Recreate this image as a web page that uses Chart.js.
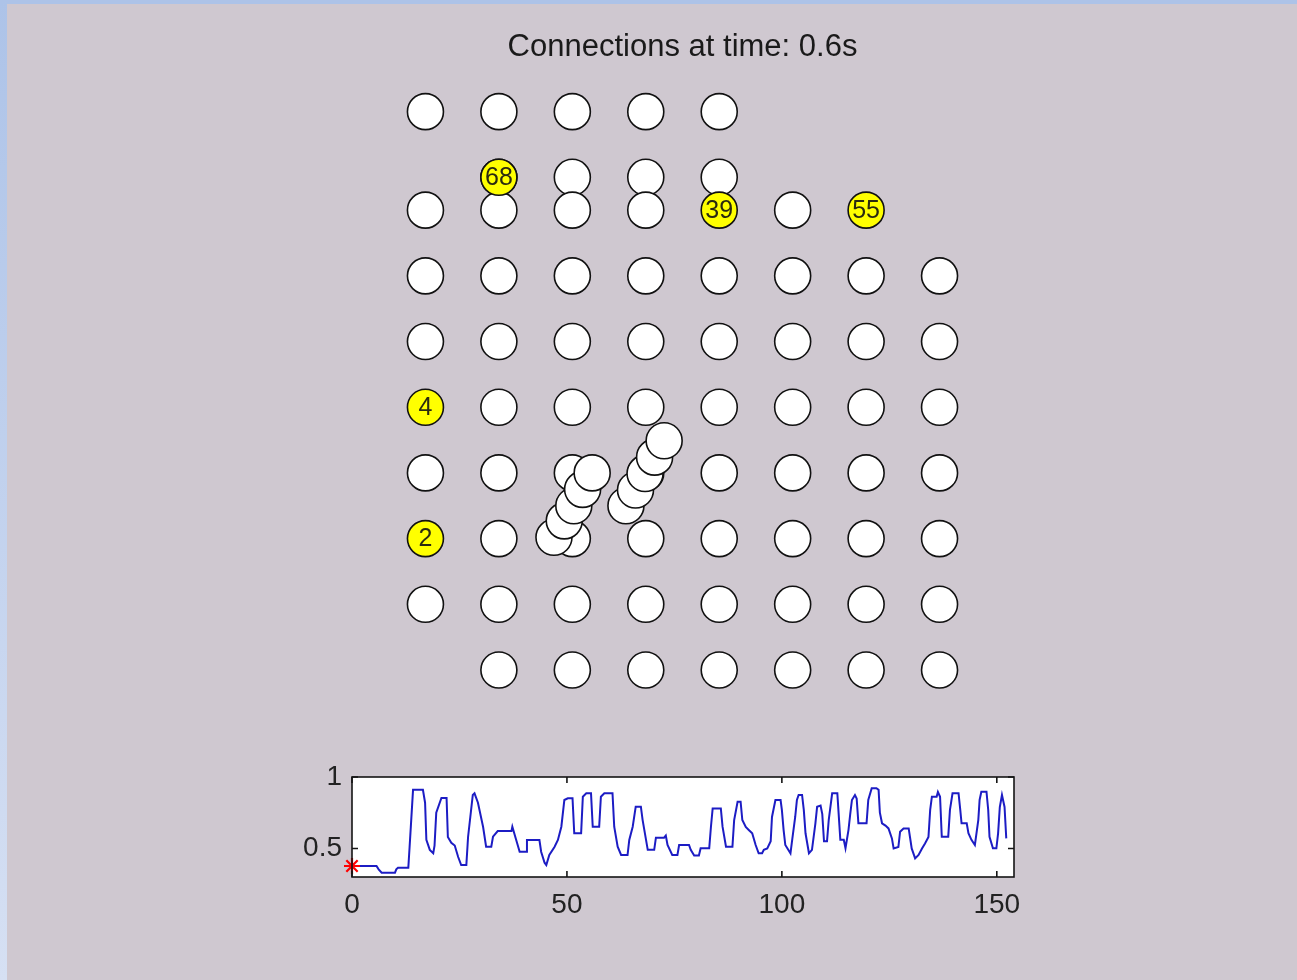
<!DOCTYPE html>
<html>
<head>
<meta charset="utf-8">
<script src="https://cdn.jsdelivr.net/npm/chart.js@4.4.1/dist/chart.umd.min.js"></script>
<style>
html, body { margin: 0; padding: 0; }
body { width: 1297px; height: 980px; background: #cfc8d0; position: relative; overflow: hidden; }
#topStrip { position: absolute; left: 0; top: 0; width: 1297px; height: 4px; background: #adc3e8; }
#leftStrip { position: absolute; left: 0; top: 0; width: 7px; height: 980px; background: linear-gradient(#adc3e8, #d6e0f3); }
#nodeChart { position: absolute; left: 0; top: 0; }
#loadChart { position: absolute; left: 0; top: 740px; }
</style>
</head>
<body>
<div id="topStrip"></div>
<div id="leftStrip"></div>
<canvas id="nodeChart" width="1297" height="740"></canvas>
<canvas id="loadChart" width="1297" height="240"></canvas>
<script>
Chart.defaults.font.family = '"Liberation Sans", Arial, Helvetica, sans-serif';
Chart.defaults.animation = false;

// grid of nodes: row heights and the columns used in each row
const nodeRows = [8.5, 7.5, 7, 6, 5, 4, 3, 2, 1, 0];
const nodeCols = [
    [1, 2, 3, 4, 5],
    [2, 3, 4, 5],
    [1, 2, 3, 4, 6],
    [1, 2, 3, 4, 5, 6, 7, 8],
    [1, 2, 3, 4, 5, 6, 7, 8],
    [2, 3, 4, 5, 6, 7, 8],
    [1, 2, 3, 4, 5, 6, 7, 8],
    [2, 3, 4, 5, 6, 7, 8],
    [1, 2, 3, 4, 5, 6, 7, 8],
    [2, 3, 4, 5, 6, 7, 8]
];

// nodes that are active (yellow) and their numbers
const activeX = [2, 5, 7, 1, 1];
const activeY = [7.5, 7, 7, 4, 2];
const activeLabels = ['68', '39', '55', '4', '2'];

// circles travelling along connections
const movingX = [2.75, 2.89, 3.02, 3.14, 3.27, 3.73, 3.86, 3.99, 4.12, 4.25];
const movingY = [2.02, 2.27, 2.50, 2.75, 3.00, 2.50, 2.74, 2.99, 3.24, 3.49];

// time trace in the lower axes
const timeS = [0, 5.7, 6.2, 6.9, 10.0, 10.3, 10.7, 13.1, 13.5, 14.2, 16.5, 17.0, 17.3, 18.1, 18.9, 19.2, 19.6, 20.8, 22.0, 22.3,
    23.1, 23.9, 24.7, 25.4, 26.6, 27.0, 28.1, 28.5, 29.3, 30.5, 31.2, 32.4, 32.8, 33.9, 37.1, 37.3, 38.2, 39.0, 40.5, 40.7,
    43.6, 44.0, 44.8, 45.2, 45.9, 47.1, 47.9, 48.7, 49.4, 50.2, 51.3, 51.7, 53.3, 53.7, 54.5, 55.6, 56.0, 57.5, 57.9, 58.7,
    60.6, 61.0, 61.8, 62.6, 64.1, 64.5, 65.3, 66.0, 67.2, 67.6, 68.4, 68.8, 70.3, 70.7, 72.6, 73.0, 73.4, 74.5, 75.7, 76.1,
    78.4, 78.8, 79.6, 80.7, 81.1, 83.1, 83.5, 83.9, 85.8, 86.2, 87.0, 88.5, 88.9, 89.7, 90.4, 90.8, 91.6, 92.3, 93.1, 93.9,
    94.6, 95.4, 95.8, 96.6, 97.4, 97.7, 98.5, 99.7, 100.0, 100.4, 100.8, 102.0, 102.4, 103.1, 103.5, 103.9, 104.7, 105.1, 105.5, 106.3,
    107.0, 107.8, 108.2, 109.0, 109.4, 109.8, 110.5, 110.9, 111.7, 112.9, 113.3, 113.6, 114.4, 114.8, 115.5, 115.9, 116.3, 117.0, 117.4, 117.8,
    119.7, 120.1, 120.9, 122.0, 122.5, 122.8, 123.3, 124.1, 124.8, 125.6, 126.0, 127.1, 127.5, 128.3, 129.5, 129.8, 130.2, 131.0, 131.8, 132.6,
    133.3, 134.1, 134.5, 134.9, 136.0, 136.3, 136.8, 137.2, 138.7, 139.1, 139.7, 141.1, 141.5, 141.8, 143.0, 143.4, 144.1, 144.9, 145.7, 146.0,
    146.4, 147.6, 148.0, 148.3, 149.1, 149.9, 150.3, 150.7, 151.2, 151.8, 152.2];
const loadValues = [0.377, 0.377, 0.354, 0.33, 0.33, 0.354, 0.365, 0.365, 0.56, 0.91, 0.91, 0.82, 0.56, 0.49, 0.466, 0.52, 0.75, 0.853, 0.853, 0.58,
    0.54, 0.52, 0.44, 0.384, 0.384, 0.58, 0.874, 0.886, 0.82, 0.65, 0.512, 0.512, 0.582, 0.622, 0.622, 0.652, 0.559, 0.477, 0.477, 0.559,
    0.559, 0.477, 0.40, 0.384, 0.454, 0.51, 0.559, 0.652, 0.839, 0.851, 0.851, 0.606, 0.606, 0.862, 0.886, 0.886, 0.652, 0.652, 0.862, 0.886,
    0.886, 0.652, 0.512, 0.454, 0.454, 0.559, 0.652, 0.792, 0.792, 0.70, 0.56, 0.49, 0.49, 0.575, 0.575, 0.59, 0.524, 0.454, 0.454, 0.524,
    0.524, 0.49, 0.45, 0.45, 0.501, 0.501, 0.652, 0.78, 0.78, 0.652, 0.512, 0.512, 0.699, 0.827, 0.827, 0.699, 0.65, 0.629, 0.606, 0.524,
    0.466, 0.466, 0.49, 0.50, 0.55, 0.72, 0.839, 0.839, 0.77, 0.63, 0.524, 0.466, 0.56, 0.72, 0.839, 0.874, 0.874, 0.77, 0.606, 0.466,
    0.49, 0.676, 0.792, 0.80, 0.74, 0.55, 0.55, 0.699, 0.886, 0.886, 0.70, 0.56, 0.56, 0.501, 0.63, 0.74, 0.839, 0.874, 0.85, 0.676,
    0.676, 0.839, 0.921, 0.921, 0.91, 0.75, 0.676, 0.66, 0.64, 0.57, 0.50, 0.51, 0.617, 0.64, 0.64, 0.58, 0.50, 0.43, 0.454, 0.50,
    0.535, 0.58, 0.77, 0.862, 0.862, 0.895, 0.862, 0.582, 0.582, 0.77, 0.886, 0.886, 0.77, 0.676, 0.676, 0.606, 0.56, 0.524, 0.70, 0.839,
    0.897, 0.897, 0.77, 0.582, 0.501, 0.501, 0.606, 0.79, 0.874, 0.79, 0.57];
const currentTime = [0];
const currentValue = [0.377];

const xTicks = [0, 50, 100, 150];
const yTicks = [0.5, 1];

// ---------- upper plot: the nodes ----------
let nodePoints = [];
nodeRows.forEach((row, i) => {
    nodeCols[i].forEach(col => nodePoints.push({ x: col, y: row }));
});
const activePoints = activeX.map((x, i) => ({ x: x, y: activeY[i] }));
const movingPoints = movingX.map((x, i) => ({ x: x, y: movingY[i] }));

const nodeLabels = {
    id: 'nodeLabels',
    afterDatasetsDraw(chart) {
        const meta = chart.getDatasetMeta(1);
        const c = chart.ctx;
        c.save();
        c.font = '25px "Liberation Sans", Arial, sans-serif';
        c.fillStyle = '#2a2a10';
        c.textAlign = 'center';
        c.textBaseline = 'middle';
        meta.data.forEach((pt, i) => {
            c.fillText(activeLabels[i], pt.x, pt.y + 1);
        });
        c.restore();
    }
};

new Chart(document.getElementById('nodeChart'), {
    type: 'scatter',
    data: {
        datasets: [
            {
                label: 'nodes',
                data: nodePoints,
                backgroundColor: '#ffffff',
                borderColor: '#111111',
                borderWidth: 1.6,
                pointRadius: 18,
                order: 3
            },
            {
                label: 'active',
                data: activePoints,
                backgroundColor: '#ffff00',
                borderColor: '#111111',
                borderWidth: 1.6,
                pointRadius: 18,
                order: 2
            },
            {
                label: 'moving',
                data: movingPoints,
                backgroundColor: '#ffffff',
                borderColor: '#111111',
                borderWidth: 1.6,
                pointRadius: 18,
                order: 1
            }
        ]
    },
    options: {
        responsive: false,
        layout: { autoPadding: false, padding: { left: 352, right: 284, top: 0, bottom: 0 } },
        plugins: {
            legend: { display: false },
            tooltip: { enabled: false },
            title: {
                display: true,
                text: 'Connections at time: 0.6s',
                color: '#1a1a1a',
                font: { size: 31, weight: 'normal' },
                padding: { top: 29, bottom: 3 }
            }
        },
        scales: {
            x: { type: 'linear', display: false, min: 0, max: 9 },
            y: { type: 'linear', display: false, min: -1.066, max: 9.146 }
        }
    },
    plugins: [nodeLabels]
});

// ---------- lower plot: the trace ----------
const axesFrame = {
    id: 'axesFrame',
    beforeDatasetsDraw(chart) {
        const a = chart.chartArea;
        const c = chart.ctx;
        c.save();
        c.fillStyle = '#ffffff';
        c.fillRect(a.left, a.top, a.right - a.left, a.bottom - a.top);
        c.restore();
    },
    afterDraw(chart) {
        const a = chart.chartArea;
        const c = chart.ctx;
        const tl = 6;
        c.save();
        c.strokeStyle = '#151515';
        c.lineWidth = 1.6;
        c.strokeRect(a.left, a.top, a.right - a.left, a.bottom - a.top);
        c.beginPath();
        xTicks.forEach(v => {
            const px = chart.scales.x.getPixelForValue(v);
            c.moveTo(px, a.bottom); c.lineTo(px, a.bottom - tl);
            c.moveTo(px, a.top); c.lineTo(px, a.top + tl);
        });
        yTicks.forEach(v => {
            const py = chart.scales.y.getPixelForValue(v);
            c.moveTo(a.left, py); c.lineTo(a.left + tl, py);
            c.moveTo(a.right, py); c.lineTo(a.right - tl, py);
        });
        c.stroke();
        c.restore();
    }
};

new Chart(document.getElementById('loadChart'), {
    type: 'scatter',
    data: {
        datasets: [
            {
                label: 'marker',
                data: currentTime.map((t, i) => ({ x: t, y: currentValue[i] })),
                pointStyle: 'star',
                pointRadius: 8,
                borderColor: '#ff0000',
                backgroundColor: '#ff0000',
                borderWidth: 2.2,
                clip: false
            },
            {
                label: 'load',
                data: timeS.map((t, i) => ({ x: t, y: loadValues[i] })),
                showLine: true,
                tension: 0,
                borderColor: '#1c1cc4',
                borderWidth: 2,
                pointRadius: 0
            }
        ]
    },
    options: {
        responsive: false,
        layout: { autoPadding: false, padding: { left: 292, right: 283, top: 37, bottom: 53 } },
        plugins: {
            legend: { display: false },
            tooltip: { enabled: false }
        },
        scales: {
            x: {
                type: 'linear',
                min: 0,
                max: 154,
                grid: { display: false, drawTicks: false },
                border: { display: false },
                afterFit(scale) { scale.height = 50; },
                afterBuildTicks(scale) { scale.ticks = xTicks.map(v => ({ value: v })); },
                ticks: { color: '#222222', font: { size: 28 }, padding: 11, maxRotation: 0, callback: v => String(v) }
            },
            y: {
                type: 'linear',
                min: 0.3,
                max: 1,
                grid: { display: false, drawTicks: false },
                border: { display: false },
                afterFit(scale) { scale.width = 60; },
                afterBuildTicks(scale) { scale.ticks = yTicks.map(v => ({ value: v })); },
                ticks: { color: '#222222', font: { size: 28 }, padding: 10, callback: v => String(v) }
            }
        }
    },
    plugins: [axesFrame]
});
</script>
</body>
</html>
